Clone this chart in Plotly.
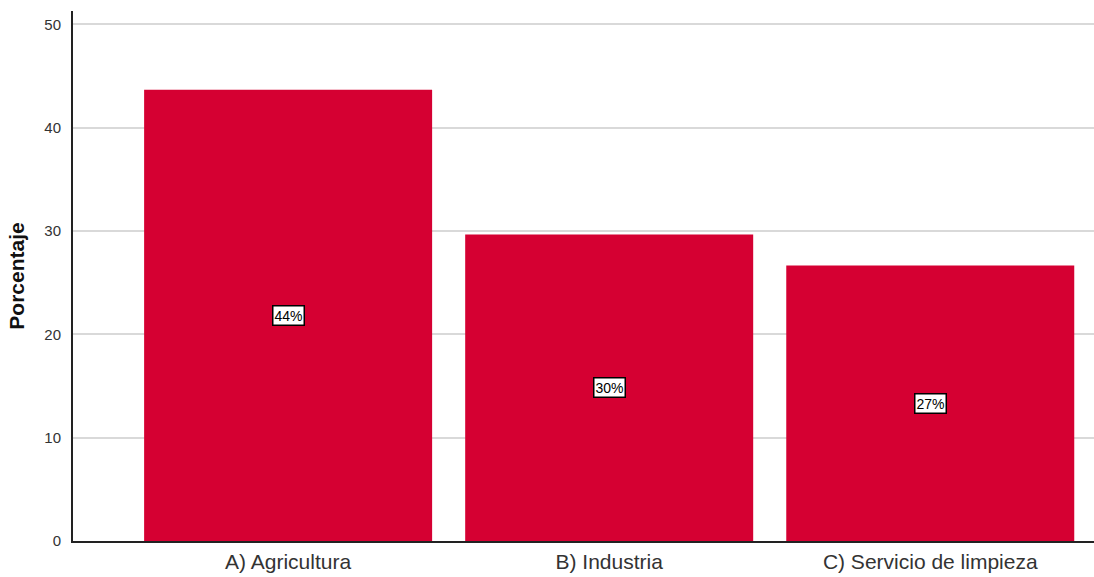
import plotly.graph_objects as go

categories = ["A) Agricultura", "B) Industria", "C) Servicio de limpieza"]
values = [43.67, 29.67, 26.67]
labels = ["44%", "30%", "27%"]

fig = go.Figure()
fig.add_trace(go.Bar(
    x=categories, y=values, marker=dict(color="#D50032", line=dict(width=0)),
    width=0.897, hoverinfo="skip"
))
for c, v, t in zip(categories, values, labels):
    fig.add_annotation(x=c, y=v / 2, text=t, showarrow=False,
                       font=dict(family="Liberation Sans, Arial", size=14, color="#000"),
                       bgcolor="white", bordercolor="#000", borderwidth=1.5, borderpad=1)

fig.update_layout(
    width=1094, height=577,
    margin=dict(l=73, r=0, t=11, b=36),
    plot_bgcolor="white", paper_bgcolor="white",
    showlegend=False,
    font=dict(family="Liberation Sans, Arial", color="#333"),
    xaxis=dict(range=[-0.67, 2.51], showline=True, linecolor="#222", linewidth=1.5,
               tickfont=dict(size=21, color="#333"), ticks="", showgrid=False,
               ticklabelstandoff=1),
    yaxis=dict(range=[0, 51.3], tickvals=[0, 10, 20, 30, 40, 50], showline=True,
               linecolor="#222", linewidth=2, showgrid=True, gridcolor="#d9d9d9",
               gridwidth=2, zeroline=False, ticks="", ticklabelstandoff=7,
               tickfont=dict(size=15, color="#333"),
               title=dict(text="<b>Porcentaje</b>", font=dict(size=21, color="#111"), standoff=14)),
)
fig.write_html("out.html", config={"displayModeBar": False},
               post_script="document.body.style.margin='0';document.body.style.overflow='hidden';")
